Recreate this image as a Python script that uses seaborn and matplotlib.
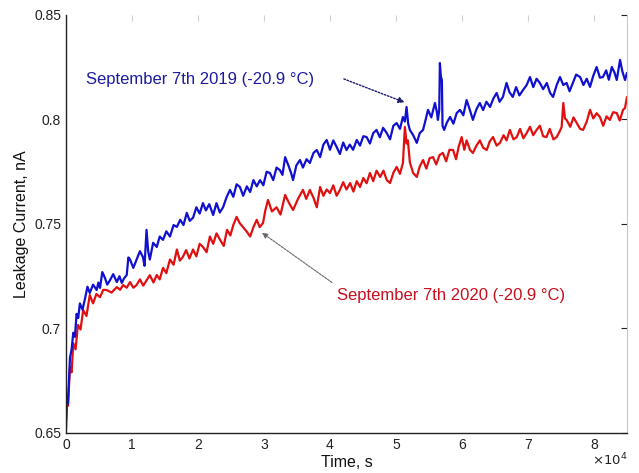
import numpy as np
import pandas as pd
import matplotlib
matplotlib.use("Agg")
import matplotlib.pyplot as plt
import seaborn as sns

# ---- data ----
t_2019 = [0, 150, 300, 600, 850, 1100, 1350, 1600, 1850, 2100, 2500, 2900, 3250, 3600, 4100, 4650, 4900, 5150,
          5500, 5900, 6250, 6650, 7150, 7700, 8100, 8450, 8800, 9200, 9450, 9700, 10200, 10700, 11200, 11650,
          11900, 12200, 12450, 12700, 13200, 13750, 14200, 14700, 15200, 15750, 16300, 16800, 17300, 17800,
          18300, 18750, 19250, 19750, 20250, 20750, 21200, 21700, 22300, 22800, 23300, 23800, 24350, 24850,
          25350, 25850, 26350, 26850, 27400, 27900, 28400, 28900, 29400, 29900, 30400, 30900, 31400, 31900,
          32400, 32800, 33200, 33700, 34100, 34400, 34900, 35450, 35900, 36450, 36950, 37500, 38000, 38500,
          39000, 39500, 40000, 40500, 41000, 41500, 42000, 42500, 43000, 43500, 44050, 44550, 45050, 45550,
          46050, 46550, 47050, 47550, 48050, 48600, 49100, 49600, 50100, 50600, 51050, 51350, 51600, 51850,
          52100, 52600, 53150, 53600, 54100, 54500, 54850, 55350, 55900, 56200, 56350, 56550, 56650, 56800,
          56950, 57050, 57300, 57700, 58200, 58700, 59200, 59700, 60200, 60700, 61200, 61650, 62200, 62700,
          63200, 63700, 64250, 64750, 65250, 65700, 66200, 66750, 67200, 67700, 68200, 68700, 69250, 69800,
          70300, 70800, 71300, 71800, 72300, 72850, 73350, 73800, 74350, 74850, 75350, 75850, 76300, 76800,
          77300, 77900, 78400, 78900, 79400, 79900, 80400, 80900, 81350, 81850, 82250, 82700, 83100, 83450,
          83950, 84300, 84700, 85000]
i_2019 = [0.655, 0.668, 0.664, 0.686, 0.690, 0.698, 0.696, 0.707, 0.705, 0.712, 0.709, 0.7146, 0.720, 0.717,
          0.721, 0.7184, 0.722, 0.7194, 0.727, 0.7242, 0.721, 0.723, 0.726, 0.7222, 0.725, 0.7218, 0.724,
          0.7256, 0.734, 0.733, 0.729, 0.733, 0.737, 0.7342, 0.730, 0.7472, 0.737, 0.733, 0.741, 0.739, 0.744,
          0.7424, 0.7465, 0.744, 0.7495, 0.7486, 0.752, 0.7495, 0.7553, 0.7515, 0.753, 0.758, 0.755, 0.760,
          0.7565, 0.7595, 0.7543, 0.760, 0.7555, 0.758, 0.763, 0.7663, 0.763, 0.769, 0.7677, 0.7635, 0.768,
          0.7653, 0.771, 0.768, 0.771, 0.7685, 0.775, 0.7744, 0.771, 0.777, 0.7758, 0.7735, 0.782, 0.778,
          0.7745, 0.771, 0.778, 0.7806, 0.777, 0.781, 0.7792, 0.784, 0.7854, 0.782, 0.788, 0.7902, 0.7855,
          0.790, 0.7869, 0.7835, 0.789, 0.7854, 0.788, 0.7855, 0.7902, 0.7875, 0.792, 0.7916, 0.7885, 0.7935,
          0.795, 0.7915, 0.796, 0.7935, 0.7905, 0.797, 0.7983, 0.7955, 0.8012, 0.799, 0.806, 0.798, 0.795,
          0.7925, 0.7888, 0.7935, 0.795, 0.800, 0.8046, 0.801, 0.8079, 0.8035, 0.7998, 0.8045, 0.827, 0.8205,
          0.8189, 0.797, 0.795, 0.7985, 0.8012, 0.798, 0.8031, 0.8046, 0.802, 0.8093, 0.8045, 0.7998, 0.805,
          0.8079, 0.8045, 0.8085, 0.806, 0.810, 0.8127, 0.8085, 0.8108, 0.8175, 0.813, 0.8108, 0.8155, 0.8115,
          0.8141, 0.8165, 0.8203, 0.8155, 0.8195, 0.8175, 0.8145, 0.8175, 0.8127, 0.8108, 0.8165, 0.8203,
          0.8165, 0.8175, 0.8135, 0.8175, 0.8215, 0.8203, 0.8165, 0.8195, 0.8156, 0.821, 0.8251, 0.820,
          0.8203, 0.8235, 0.819, 0.8251, 0.8225, 0.8189, 0.8285, 0.823, 0.8189, 0.8223]

t_2020 = [0, 150, 300, 600, 850, 1100, 1450, 1800, 2200, 2600, 3100, 3600, 3850, 4100, 4600, 5150, 5650, 6150,
          6900, 7700, 8200, 8650, 9200, 9700, 10200, 10700, 11200, 11700, 12200, 12700, 13250, 13750, 14200,
          14700, 15200, 15750, 16300, 16800, 17250, 17700, 18200, 18700, 19250, 19750, 20250, 20750, 21300,
          21800, 22300, 22800, 23350, 23900, 24400, 24900, 25350, 25850, 26300, 26800, 27350, 27900, 28400,
          28900, 29350, 29850, 30200, 30600, 31200, 31900, 32500, 33200, 33800, 34400, 35150, 35900, 36400,
          36950, 37500, 38000, 38500, 39000, 39500, 40000, 40500, 41000, 41500, 42000, 42500, 43050, 43550,
          44050, 44550, 45050, 45550, 46050, 46550, 47050, 47600, 48100, 48600, 49100, 49600, 50100, 50600,
          51050, 51350, 51600, 51800, 52100, 52600, 53150, 53600, 54100, 54600, 55100, 55600, 56100, 56600,
          57100, 57600, 58100, 58650, 59100, 59500, 59950, 60350, 60700, 61200, 61650, 62200, 62700, 63200,
          63750, 64200, 64700, 65250, 65750, 66300, 66750, 67250, 67800, 68300, 68800, 69300, 69800, 70300,
          70800, 71300, 71800, 72300, 72800, 73300, 73850, 74350, 74750, 75100, 75350, 75600, 75850, 76400,
          76900, 77400, 77900, 78350, 78900, 79400, 79900, 80400, 80900, 81400, 81900, 82400, 82900, 83450,
          83900, 84400, 84700, 85000]
i_2020 = [0.652, 0.6658, 0.663, 0.6816, 0.679, 0.693, 0.690, 0.7017, 0.6995, 0.7088, 0.706, 0.716, 0.714,
          0.712, 0.7165, 0.715, 0.7185, 0.7184, 0.7172, 0.7198, 0.7185, 0.7208, 0.7195, 0.7222, 0.7195,
          0.7208, 0.7235, 0.7205, 0.723, 0.7255, 0.722, 0.7256, 0.7235, 0.729, 0.7265, 0.733, 0.7305, 0.7378,
          0.7325, 0.7342, 0.7375, 0.7335, 0.7378, 0.7345, 0.7405, 0.739, 0.7365, 0.744, 0.7405, 0.7455,
          0.7424, 0.7395, 0.7472, 0.7445, 0.7495, 0.7534, 0.7505, 0.7486, 0.7465, 0.744, 0.7485, 0.752,
          0.7485, 0.7505, 0.7565, 0.7615, 0.756, 0.758, 0.7545, 0.7639, 0.760, 0.7567, 0.762, 0.7663, 0.762,
          0.7663, 0.7625, 0.758, 0.7677, 0.7635, 0.7665, 0.7648, 0.7685, 0.7635, 0.7663, 0.770, 0.7665,
          0.7696, 0.7655, 0.7705, 0.7677, 0.772, 0.7695, 0.7744, 0.7705, 0.7755, 0.7725, 0.7755, 0.771,
          0.7696, 0.7745, 0.7773, 0.774, 0.7792, 0.7964, 0.7885, 0.790, 0.7795, 0.7744, 0.7725, 0.7775,
          0.7806, 0.7765, 0.7815, 0.782, 0.7785, 0.783, 0.784, 0.780, 0.7855, 0.7854, 0.781, 0.787, 0.7916,
          0.7855, 0.790, 0.7855, 0.784, 0.7875, 0.790, 0.7865, 0.7854, 0.7895, 0.7916, 0.7875, 0.7888,
          0.7925, 0.790, 0.795, 0.7905, 0.7916, 0.7955, 0.791, 0.7935, 0.7965, 0.7925, 0.795, 0.797, 0.792,
          0.7916, 0.7955, 0.7905, 0.7916, 0.794, 0.7964, 0.8079, 0.8005, 0.7998, 0.7965, 0.801, 0.7983,
          0.7955, 0.795, 0.799, 0.8046, 0.8005, 0.803, 0.8012, 0.797, 0.8015, 0.7998, 0.8035, 0.8031, 0.7995,
          0.8046, 0.8055, 0.8108]

label_2019 = "September 7th 2019 (-20.9 °C)"
label_2020 = "September 7th 2020 (-20.9 °C)"
x_ticks = [0, 10000, 20000, 30000, 40000, 50000, 60000, 70000, 80000]
x_ticklabels = ["0", "1", "2", "3", "4", "5", "6", "7", "8"]
y_ticks = [0.65, 0.70, 0.75, 0.80, 0.85]
y_ticklabels = ["0.65", "0.7", "0.75", "0.8", "0.85"]

# ---- plot ----
sns.set_style("white")
plt.rcParams["font.family"] = ["Liberation Sans", "DejaVu Sans"]

fig = plt.figure(figsize=(6.39, 4.73), dpi=100)
ax = fig.add_axes([0.1033, 0.0846, 0.9812 - 0.1033, 0.9683 - 0.0846])

df19 = pd.DataFrame({"t": t_2019, "i": i_2019})
df20 = pd.DataFrame({"t": t_2020, "i": i_2020})
sns.lineplot(data=df20, x="t", y="i", ax=ax, color="#e01010", lw=1.6, sort=False)
sns.lineplot(data=df19, x="t", y="i", ax=ax, color="#1010d0", lw=1.6, sort=False)

ax.set_xlim(0, 85000)
ax.set_ylim(0.65, 0.85)
ax.set_xticks(x_ticks)
ax.set_xticklabels(x_ticklabels, fontsize=10)
ax.set_yticks(y_ticks)
ax.set_yticklabels(y_ticklabels, fontsize=10)
ax.tick_params(direction="in", length=4, width=0.8, colors="#222222", right=True, top=False,
               labelcolor="#222222")
ax.tick_params(axis="y", which="major", right=True)

# faint top ticks
sec = ax.secondary_xaxis("top")
sec.set_xticks(x_ticks)
sec.tick_params(direction="in", length=4, width=0.8, colors="#cfcfcf", labeltop=False)
sec.spines["top"].set_visible(False)

ax.set_xlabel("Time, s", fontsize=11.5, color="#111111", labelpad=2)
ax.set_ylabel("Leakage Current, nA", fontsize=11.5, color="#111111", labelpad=4)
ax.text(1.0, -0.045, r"$\times10^{4}$", transform=ax.transAxes, ha="right", va="top",
        fontsize=9.5, color="#222222")

for side in ["left", "bottom"]:
    ax.spines[side].set_color("#222222")
    ax.spines[side].set_linewidth(1.0)
ax.spines["right"].set_color("#c8c8c8")
ax.spines["top"].set_visible(False)

# annotations
ax.text(3000, 0.8192, label_2019, color="#1c1ca0", fontsize=12, ha="left", va="center")
ax.annotate("", xy=(51300, 0.8082), xytext=(42100, 0.8194),
            arrowprops=dict(arrowstyle="-|>", color="#1c1c70", lw=1.0, linestyle=(0, (1.2, 1.2)),
                            mutation_scale=9, shrinkA=0, shrinkB=0))
ax.text(41100, 0.7158, label_2020, color="#c8101e", fontsize=12, ha="left", va="center")
ax.annotate("", xy=(29700, 0.7458), xytext=(40300, 0.7220),
            arrowprops=dict(arrowstyle="-|>", color="#666666", lw=0.8, linestyle=(0, (2, 1)),
                            mutation_scale=8, shrinkA=0, shrinkB=0))

fig.savefig("out.png", dpi=100)
